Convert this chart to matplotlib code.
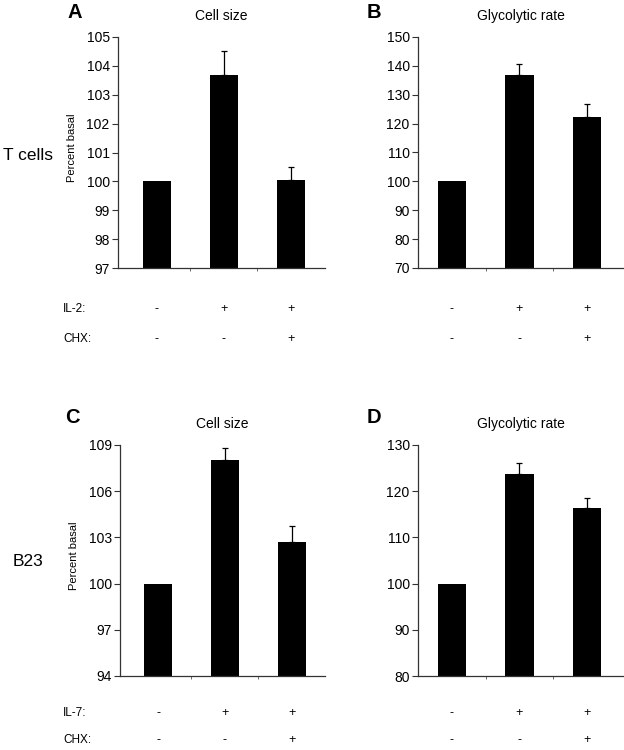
import matplotlib; matplotlib.use("Agg")
import matplotlib.pyplot as plt

plt.rcParams['font.family'] = ['Liberation Sans', 'DejaVu Sans']

# ---- data ----
conds = ["ctrl", "IL", "IL+CHX"]
t_size = [100.0, 103.7, 100.05]
t_size_err = [0.0, 0.8, 0.45]
t_glyc = [100.0, 136.7, 122.3]
t_glyc_err = [0.0, 3.8, 4.4]
b_size = [100.0, 108.0, 102.7]
b_size_err = [0.0, 0.8, 1.05]
b_glyc = [100.0, 123.7, 116.3]
b_glyc_err = [0.0, 2.4, 2.2]

il_signs = ["-", "+", "+"]
chx_signs = ["-", "-", "+"]

W, H = 624, 750
fig = plt.figure(figsize=(W/100, H/100), dpi=100)

def box(l, r, t, b):
    return [l/W, 1-b/H, (r-l)/W, (b-t)/H]

def panel(rect, vals, errs, ylim, yticks, xlim, title, letter, lx, ly, ylabel=False):
    ax = fig.add_axes(rect)
    x = range(len(vals))
    ax.bar(x, vals, width=0.42, color="black", zorder=2)
    # upper error bars only
    for i, (v, e) in enumerate(zip(vals, errs)):
        if e > 0:
            ax.errorbar(i, v, yerr=[[0], [e]], fmt="none", ecolor="black",
                        elinewidth=0.9, capsize=2.5, capthick=0.9, zorder=3)
    ax.set_ylim(*ylim); ax.set_xlim(*xlim)
    ax.set_yticks(yticks)
    ax.set_xticks([0.5, 1.5]); ax.set_xticklabels([])
    ax.tick_params(axis="x", length=2, width=0.6, color="#555")
    ax.tick_params(axis="y", length=4, width=0.8, labelsize=10, pad=2, color="#333")
    for s in ["top", "right"]: ax.spines[s].set_visible(False)
    for s in ["left", "bottom"]:
        ax.spines[s].set_linewidth(0.9); ax.spines[s].set_color("#333")
    ax.set_title(title, fontsize=10, pad=12)
    ax.text(lx, ly, letter, transform=ax.transAxes, fontsize=14.5,
            fontweight="bold", ha="left", va="center")
    if ylabel:
        ax.set_ylabel("Percent basal", fontsize=8, labelpad=4)
        ax.yaxis.set_label_coords(-0.198, 0.52)
    return ax

def sign_rows(ax, y1, y2):
    tr = ax.get_xaxis_transform()
    for i, (a, c) in enumerate(zip(il_signs, chx_signs)):
        ax.text(i, y1, a, transform=tr, ha="center", va="center", fontsize=9)
        ax.text(i, y2, c, transform=tr, ha="center", va="center", fontsize=9)

axA = panel(box(118, 325, 37, 268), t_size, t_size_err, (97, 105), range(97, 106),
            (-0.58, 2.51), "Cell size", "A", -0.246, 1.108, ylabel=True)
axB = panel(box(418, 623, 37, 268), t_glyc, t_glyc_err, (70, 150), range(70, 151, 10),
            (-0.5, 2.53), "Glycolytic rate", "B", -0.25, 1.108)
axC = panel(box(120, 325, 445, 676), b_size, b_size_err, (94, 109), range(94, 110, 3),
            (-0.57, 2.5), "Cell size", "C", -0.27, 1.12, ylabel=True)
axD = panel(box(418, 623, 445, 676), b_glyc, b_glyc_err, (80, 130), range(80, 131, 10),
            (-0.5, 2.53), "Glycolytic rate", "D", -0.25, 1.117)

sign_rows(axA, (268-309)/231, (268-339)/231)
sign_rows(axB, (268-309)/231, (268-339)/231)
sign_rows(axC, (676-713)/231, (676-740)/231)
sign_rows(axD, (676-713)/231, (676-740)/231)

fig.text(63/W, 1-309/H, "IL-2:", fontsize=8.5, ha="left", va="center")
fig.text(63/W, 1-339/H, "CHX:", fontsize=8.5, ha="left", va="center")
fig.text(63/W, 1-713/H, "IL-7:", fontsize=8.5, ha="left", va="center")
fig.text(63/W, 1-740/H, "CHX:", fontsize=8.5, ha="left", va="center")

fig.text(3/W, 1-156/H, "T cells", fontsize=12.5, ha="left", va="center")
fig.text(13/W, 1-562/H, "B23", fontsize=12.5, ha="left", va="center")

fig.savefig("out.png", dpi=100)
